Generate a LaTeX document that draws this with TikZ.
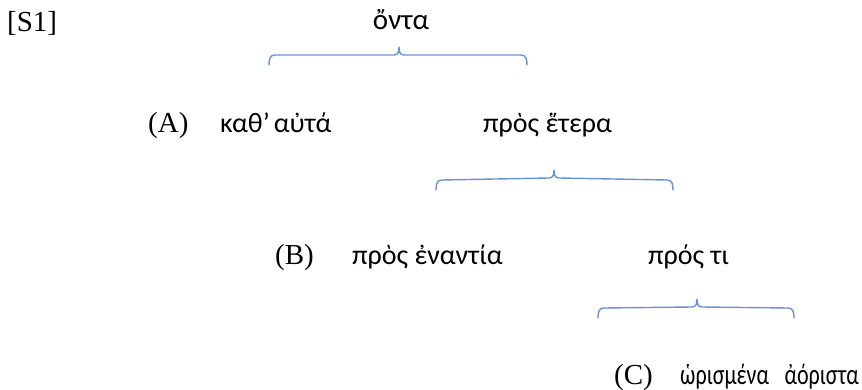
\documentclass[tikz,border=0pt]{standalone}
\usepackage{fontspec}
\setmainfont{Liberation Serif}
\newfontfamily\grk{Carlito}
\newfontfamily\grkn[FakeStretch=0.76]{Carlito}
\usetikzlibrary{calc}
\definecolor{braceblue}{RGB}{104,146,214}
\tikzset{
  lat/.style={inner sep=0pt, anchor=base west, font=\fontsize{29}{30}\selectfont},
  gr/.style={inner sep=0pt, anchor=base west, font=\grk\fontsize{28}{30}\selectfont},
  grs/.style={inner sep=0pt, anchor=base west, font=\grkn\fontsize{29}{30}\selectfont},
  grc/.style={inner sep=0pt, anchor=base, font=\grk\fontsize{29}{30}\selectfont},
  bracestyle/.style={draw=braceblue, line width=1.4pt, line cap=round, line join=round},
}
% #1 left end, #2 tip, #3 right end (ends lie 10 below the bar, tip 8 above)
\newcommand\mybrace[3]{%
  \draw[bracestyle] (#1)
    .. controls ($(#1)+(0,-6)$) and ($(#1)+(1,-10)$) .. ($(#1)+(6,-10)$)
    -- ($(#2)+(-5,8)$)
    .. controls ($(#2)+(-1,8)$) and ($(#2)+(0,5)$) .. (#2)
    .. controls ($(#2)+(0,5)$) and ($(#2)+(1,8)$) .. ($(#2)+(5,8)$)
    -- ($(#3)+(-6,-10)$)
    .. controls ($(#3)+(-1,-10)$) and ($(#3)+(0,-6)$) .. (#3);}
\begin{document}
\begin{tikzpicture}[x=1pt,y=-1pt]
\useasboundingbox (0,0) rectangle (862,390);
\node[lat] (s1) at (7,32) {[S1]};
\node[grc] (onta) at (401,30) {ὄντα};
\node[lat] (la) at (148,133) {(A)};
\node[gr] (kath) at (220,133) {καθ’\hspace{4pt}αὐτά};
\node[gr] (heter) at (483,133) {πρὸς ἕτερα};
\node[lat] (lb) at (275,264) {(B)};
\node[gr] (enant) at (352,264) {πρὸς ἐναντία};
\node[gr] (prosti) at (648,264) {πρός τι};
\node[lat] (lc) at (614,384) {(C)};
\node[grs] (horis) at (680,384) {ὡρισμένα};
\node[grs, anchor=base east] (aorist) at (859,384) {ἀόριστα};
\coordinate (b1l) at (269,65);
\coordinate (b1t) at (399,47);
\coordinate (b1r) at (527,65);
\coordinate (b2l) at (436,190);
\coordinate (b2t) at (554,170);
\coordinate (b2r) at (673,190);
\coordinate (b3l) at (598,318);
\coordinate (b3t) at (697,299);
\coordinate (b3r) at (794,318);
\mybrace{b1l}{b1t}{b1r}
\mybrace{b2l}{b2t}{b2r}
\mybrace{b3l}{b3t}{b3r}
\end{tikzpicture}
\end{document}
